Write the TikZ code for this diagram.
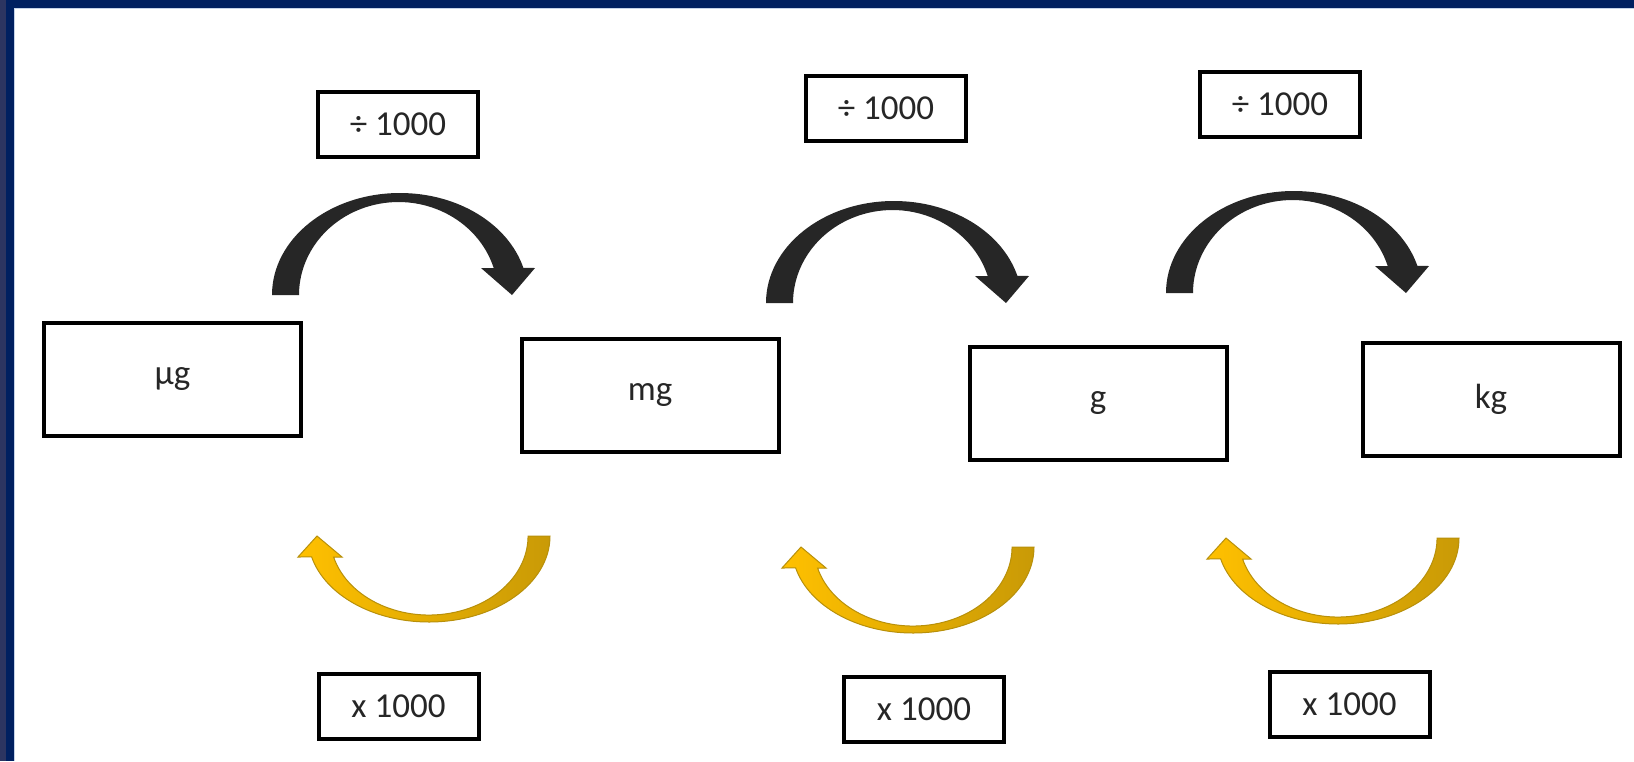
\documentclass[tikz,border=0pt]{standalone}
\usepackage{fontspec}
\setmainfont{Carlito}
\definecolor{navy}{HTML}{002060}
\definecolor{navygray}{HTML}{2C3561}
\definecolor{edgeline}{HTML}{C5D3E8}
\definecolor{txt}{HTML}{262626}
\definecolor{arrowblack}{HTML}{262626}
\definecolor{ylwL}{HTML}{FFC000}
\definecolor{ylwR}{HTML}{C99A06}
\definecolor{ygold}{HTML}{B8900A}
\begin{document}
\begin{tikzpicture}[x=0.5pt,y=-0.5pt,
  unitbox/.style={draw=black,line width=2pt,minimum width=128.5pt,minimum height=56.5pt,inner sep=0pt,text=txt,font=\fontsize{17.5}{20}\selectfont},
  labelbox/.style={draw=black,line width=2pt,minimum width=80pt,minimum height=32.5pt,inner sep=0pt,text=txt,font=\fontsize{17.5}{20}\selectfont},
  barrow/.style={fill=arrowblack},
  yarrow/.style={draw=ygold,line width=0.5pt,left color=ylwL,right color=ylwR}]
\useasboundingbox (0,0) rectangle (1634,761);
\fill[white] (0,0) rectangle (1634,761);
% frame (top and left)
\fill[navy] (0,0) rectangle (1634,8);
\fill[navy] (0,0) rectangle (14,761);
\fill[navygray] (0,0) rectangle (6,761);
\draw[edgeline,line width=0.5pt] (14.5,761) -- (14.5,8.5) -- (1634,8.5);

% unit boxes
\node[unitbox] (ug) at (172.5,379.5) {µg};
\node[unitbox] (mg) at (650,395) {mg};
\node[unitbox] (g)  at (1098,403) {g};
\node[unitbox] (kg) at (1491,399) {kg};

% divide labels
\node[labelbox] (d1) at (398,124.5) {÷ 1000};
\node[labelbox] (d2) at (886,108.5) {÷ 1000};
\node[labelbox] (d3) at (1280,104) {÷ 1000};

% multiply labels
\node[labelbox] (m1) at (398.5,706) {x 1000};
\node[labelbox] (m2) at (924,709.5) {x 1000};
\node[labelbox] (m3) at (1349.5,704.5) {x 1000};

% black curved arrows (divide)
\foreach \dx/\dy in {0/0, 494/8, 894/-2}{
  \begin{scope}[shift={(\dx,\dy)}]
    \fill[barrow] (272,295) arc[start angle=180,end angle=344.6,x radius=128,y radius=102]
      -- (535,268) -- (512,295) -- (481,268) -- (493.7,268)
      arc[start angle=343.1,end angle=180,x radius=99.5,y radius=93] -- cycle;
  \end{scope}
}

% yellow curved arrows (multiply)
\foreach \dx/\dy in {0/0, 484/11, 909/2}{
  \begin{scope}[shift={(\dx,\dy)}]
    \path[yarrow] (550,536) arc[start angle=0,end angle=165.9,x radius=121,y radius=86]
      -- (298,557) -- (317,536) -- (342,557) -- (333.6,557)
      arc[start angle=164.6,end angle=0,x radius=99,y radius=79] -- cycle;
  \end{scope}
}
\end{tikzpicture}
\end{document}
